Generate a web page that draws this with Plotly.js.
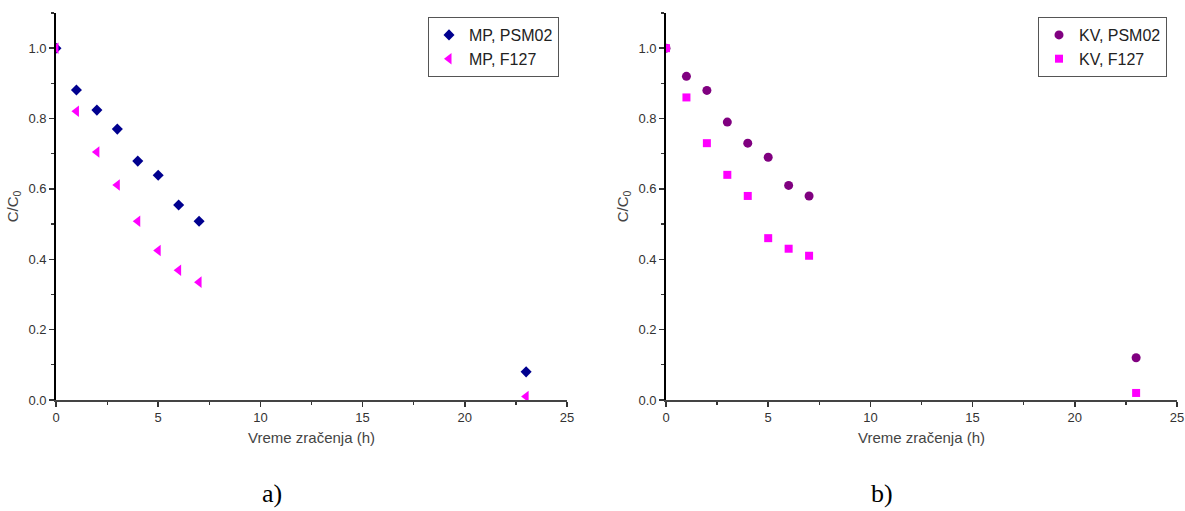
<!DOCTYPE html>
<html><head><meta charset="utf-8">
<script src="https://cdn.plot.ly/plotly-3.0.1.min.js"></script>
<style>html,body{margin:0;padding:0;background:#fff}#chart{width:1185px;height:511px}</style>
</head><body><div id="chart"></div>
<script>
const timeH = [0, 1, 2, 3, 4, 5, 6, 7, 23];
const mpPSM02 = [1.0, 0.881, 0.824, 0.770, 0.679, 0.639, 0.554, 0.508, 0.080];
const mpF127 = [1.0, 0.821, 0.705, 0.611, 0.508, 0.425, 0.369, 0.335, 0.010];
const kvPSM02 = [1.0, 0.92, 0.88, 0.79, 0.73, 0.69, 0.61, 0.58, 0.12];
const kvF127 = [1.0, 0.86, 0.73, 0.64, 0.58, 0.46, 0.43, 0.41, 0.02];
const names = ["MP, PSM02", "MP, F127", "KV, PSM02", "KV, F127"];
const panelLabels = ["a)", "b)"];
const xTitle = "Vreme zračenja (h)";
const yTitle = "C/C<sub>0</sub>";

const traces = [
  {x: timeH, y: mpPSM02, name: names[0], type: 'scatter', mode: 'markers', xaxis: 'x', yaxis: 'y', legend: 'legend',
   marker: {symbol: 'diamond', size: 8.5, color: '#00008f'}},
  {x: timeH, y: mpF127, name: names[1], type: 'scatter', mode: 'markers', xaxis: 'x', yaxis: 'y', legend: 'legend',
   marker: {symbol: 'triangle-left', size: 10, color: '#ff00ff'}},
  {x: timeH, y: kvPSM02, name: names[2], type: 'scatter', mode: 'markers', xaxis: 'x2', yaxis: 'y2', legend: 'legend2',
   marker: {symbol: 'circle', size: 9, color: '#800080'}},
  {x: timeH, y: kvF127, name: names[3], type: 'scatter', mode: 'markers', xaxis: 'x2', yaxis: 'y2', legend: 'legend2',
   marker: {symbol: 'square', size: 8, color: '#ff00ff'}}
];

const fam = 'Liberation Sans, Arial, sans-serif';
const fnt = {family: fam, size: 13, color: '#333'};
function xax(dom, anchor) {
  return {domain: dom, anchor: anchor, range: [0, 25], dtick: 5, tick0: 0, showgrid: false, zeroline: false,
    showline: true, linecolor: '#444', linewidth: 1.5, ticks: 'outside', ticklen: 5, tickwidth: 1.5, tickcolor: '#333',
    minor: {dtick: 2.5, ticklen: 3, tickcolor: '#333', tickwidth: 1.2, ticks: 'outside', showgrid: false},
    tickfont: fnt, title: {text: xTitle, font: {family: fam, size: 15, color: '#444'}, standoff: 8}};
}
function yax(dom, anchor) {
  return {domain: dom, anchor: anchor, range: [0, 1.1], dtick: 0.2, tick0: 0, tickformat: '.1f', showgrid: false, zeroline: false,
    showline: true, linecolor: '#000', linewidth: 1.8, ticks: 'outside', ticklen: 5, tickwidth: 1.5, tickcolor: '#333',
    minor: {dtick: 0.1, ticklen: 3, tickcolor: '#333', tickwidth: 1.2, ticks: 'outside', showgrid: false},
    tickfont: fnt, title: {text: yTitle, font: {family: fam, size: 15, color: '#444'}, standoff: 6}};
}
const ydom = [111/511, 498/511];
const legendBase = {bordercolor: '#555', borderwidth: 1, bgcolor: '#fff', xanchor: 'left', yanchor: 'top',
  font: {family: fam, size: 16, color: '#222'}, tracegroupgap: 0, itemwidth: 30};
const layout = {
  width: 1185, height: 511, margin: {l: 0, r: 0, t: 0, b: 0}, paper_bgcolor: '#fff', plot_bgcolor: '#fff',
  showlegend: true,
  xaxis: xax([56/1185, 567/1185], 'y'),
  yaxis: yax(ydom, 'x'),
  xaxis2: xax([666/1185, 1177/1185], 'y2'),
  yaxis2: yax(ydom, 'x2'),
  legend: Object.assign({}, legendBase, {x: 428/1185, y: 1 - 17/511}),
  legend2: Object.assign({}, legendBase, {x: 1038/1185, y: 1 - 17/511}),
  annotations: [
    {text: panelLabels[0], x: 272/1185, y: 1 - 493/511, xref: 'paper', yref: 'paper', showarrow: false,
     xanchor: 'center', yanchor: 'middle',
     font: {family: 'Liberation Serif, Times New Roman, serif', size: 26, color: '#000'}},
    {text: panelLabels[1], x: 882/1185, y: 1 - 493/511, xref: 'paper', yref: 'paper', showarrow: false,
     xanchor: 'center', yanchor: 'middle',
     font: {family: 'Liberation Serif, Times New Roman, serif', size: 26, color: '#000'}}
  ]
};
Plotly.newPlot('chart', traces, layout, {displayModeBar: false, staticPlot: true});
</script></body></html>
